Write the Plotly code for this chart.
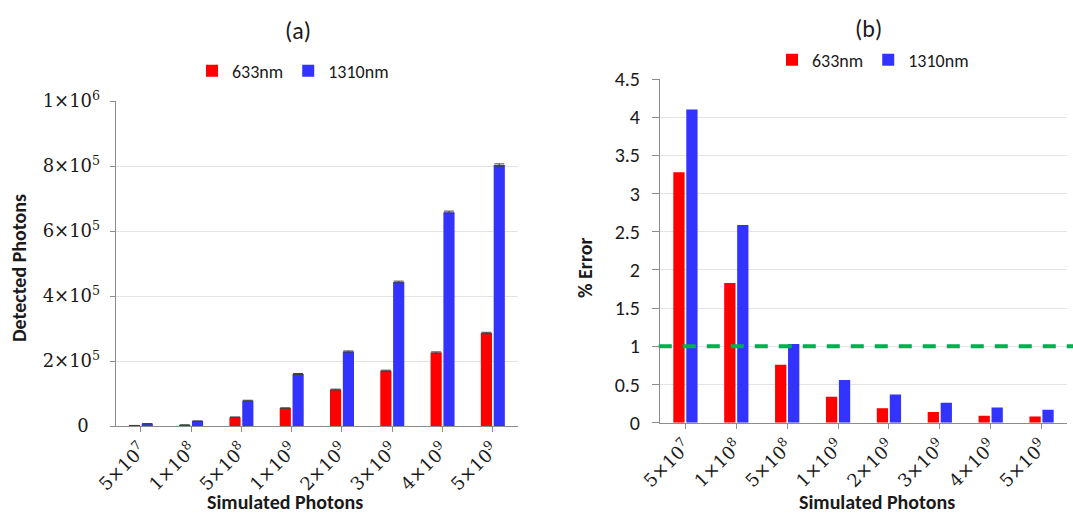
import plotly.graph_objects as go

# ---------------- data ----------------
categories = ["5e7", "1e8", "5e8", "1e9", "2e9", "3e9", "4e9", "5e9"]
category_labels = ["5×10<sup>7</sup>", "1×10<sup>8</sup>", "5×10<sup>8</sup>", "1×10<sup>9</sup>",
                   "2×10<sup>9</sup>", "3×10<sup>9</sup>", "4×10<sup>9</sup>", "5×10<sup>9</sup>"]
series_names = ["633nm", "1310nm"]

detected_633 = [1500, 3000, 27000, 55000, 112000, 170000, 226000, 286000]
detected_1310 = [7000, 15000, 78000, 160000, 229000, 443000, 658000, 803000]
detected_err_633 = [300, 400, 800, 1000, 1400, 1700, 2000, 2300]
detected_err_1310 = [500, 700, 1200, 1600, 1900, 2700, 3200, 3600]

error_633 = [3.28, 1.83, 0.76, 0.34, 0.19, 0.14, 0.09, 0.08]
error_1310 = [4.10, 2.59, 1.03, 0.56, 0.37, 0.26, 0.20, 0.17]
threshold = 1.0

a_tickvals = [0, 200000, 400000, 600000, 800000, 1000000]
a_ticktext = ["0\u2007", "2×10<sup>5</sup>", "4×10<sup>5</sup>", "6×10<sup>5</sup>", "8×10<sup>5</sup>", "1×10<sup>6</sup>"]
b_tickvals = [0, 0.5, 1, 1.5, 2, 2.5, 3, 3.5, 4, 4.5]
b_ticktext = ["0", "0.5", "1", "1.5", "2", "2.5", "3", "3.5", "4", "4.5"]

RED = "#FF0000"
BLUE = "#3333FF"
SANS = "Carlito, Lato, Open Sans, sans-serif"
SERIF = "DejaVu Serif, serif"
AXCOL = "#8C8C8C"
GRID = "#E3E3E3"
TXT = "#1a1a1a"

fig = go.Figure()

fig.add_trace(go.Bar(x=categories, y=detected_633, name=series_names[0], marker_color=RED,
                     marker_line_width=0,
                     error_y=dict(type="data", array=detected_err_633, color="#404040", thickness=1, width=5),
                     xaxis="x", yaxis="y", legend="legend"))
fig.add_trace(go.Bar(x=categories, y=detected_1310, name=series_names[1], marker_color=BLUE,
                     marker_line_width=0,
                     error_y=dict(type="data", array=detected_err_1310, color="#404040", thickness=1, width=5),
                     xaxis="x", yaxis="y", legend="legend"))
fig.add_trace(go.Bar(x=categories, y=error_633, name=series_names[0], marker_color=RED,
                     marker_line_width=0, xaxis="x2", yaxis="y2", legend="legend2"))
fig.add_trace(go.Bar(x=categories, y=error_1310, name=series_names[1], marker_color=BLUE,
                     marker_line_width=0, xaxis="x2", yaxis="y2", legend="legend2"))

W, H = 1073, 513
def px(x):
    return x / W
def py(y):
    return 1 - y / H

xcommon = dict(type="category", tickmode="array", tickvals=categories, ticktext=category_labels,
               tickangle=-45, tickfont=dict(family=SERIF, size=18, color=TXT),
               showline=True, linecolor=AXCOL, linewidth=1, ticks="outside", ticklen=5,
               tickcolor=AXCOL, showgrid=False, zeroline=False, fixedrange=True, automargin=False)
ycommon = dict(showline=True, linecolor=AXCOL, linewidth=1, ticks="outside",
               tickcolor=AXCOL, showgrid=True, gridcolor=GRID, gridwidth=1, zeroline=False,
               fixedrange=True, automargin=False)

fig.update_layout(
    width=W, height=H,
    margin=dict(l=0, r=0, t=0, b=0, autoexpand=False),
    paper_bgcolor="white", plot_bgcolor="white",
    barmode="group", bargap=0.49, bargroupgap=0.13,
    xaxis=dict(domain=[px(115.7), px(518)], anchor="y", **xcommon),
    yaxis=dict(domain=[py(426), py(101)], anchor="x", range=[0, 1000000],
               tickmode="array", tickvals=a_tickvals, ticktext=a_ticktext, ticklen=5,
               tickfont=dict(family=SERIF, size=18, color=TXT), ticklabelstandoff=6, **ycommon),
    xaxis2=dict(domain=[px(660), px(1067)], anchor="y2", **xcommon),
    yaxis2=dict(domain=[py(422.7), py(79)], anchor="x2", range=[0, 4.5],
                tickmode="array", tickvals=b_tickvals, ticktext=b_ticktext, ticklen=7,
                ticksuffix="\u2007", tickfont=dict(family=SANS, size=20, color=TXT),
                ticklabelstandoff=8, **ycommon),
    legend=dict(orientation="h", x=px(192), y=py(71), xanchor="left", yanchor="middle",
                font=dict(family=SANS, size=18, color=TXT), bgcolor="rgba(0,0,0,0)",
                itemwidth=30, tracegroupgap=0),
    legend2=dict(orientation="h", x=px(772), y=py(60), xanchor="left", yanchor="middle",
                 font=dict(family=SANS, size=18, color=TXT), bgcolor="rgba(0,0,0,0)",
                 itemwidth=30, tracegroupgap=0),
    showlegend=True,
)

fig.add_shape(type="line", xref="x2 domain", yref="y2", x0=-0.003, x1=1.016, y0=threshold, y1=threshold,
              line=dict(color="#00B050", width=4, dash="13px,11px"), layer="above")

ann = [
    dict(text="(a)", x=px(298), y=py(31), font=dict(family=SANS, size=24, color=TXT)),
    dict(text="(b)", x=px(868), y=py(28), font=dict(family=SANS, size=24, color=TXT)),
    dict(text="<b>Detected Photons</b>", x=px(19), y=py(268), textangle=-90,
         font=dict(family=SANS, size=20, color=TXT)),
    dict(text="<b>% Error</b>", x=px(585), y=py(268), textangle=-90,
         font=dict(family=SANS, size=20, color=TXT)),
    dict(text="<b>Simulated Photons</b>", x=px(285), y=py(502),
         font=dict(family=SANS, size=20, color=TXT)),
    dict(text="<b>Simulated Photons</b>", x=px(877), y=py(502),
         font=dict(family=SANS, size=20, color=TXT)),
]
for a in ann:
    fig.add_annotation(xref="paper", yref="paper", showarrow=False, xanchor="center", yanchor="middle", **a)

fig.write_html("out.html")
